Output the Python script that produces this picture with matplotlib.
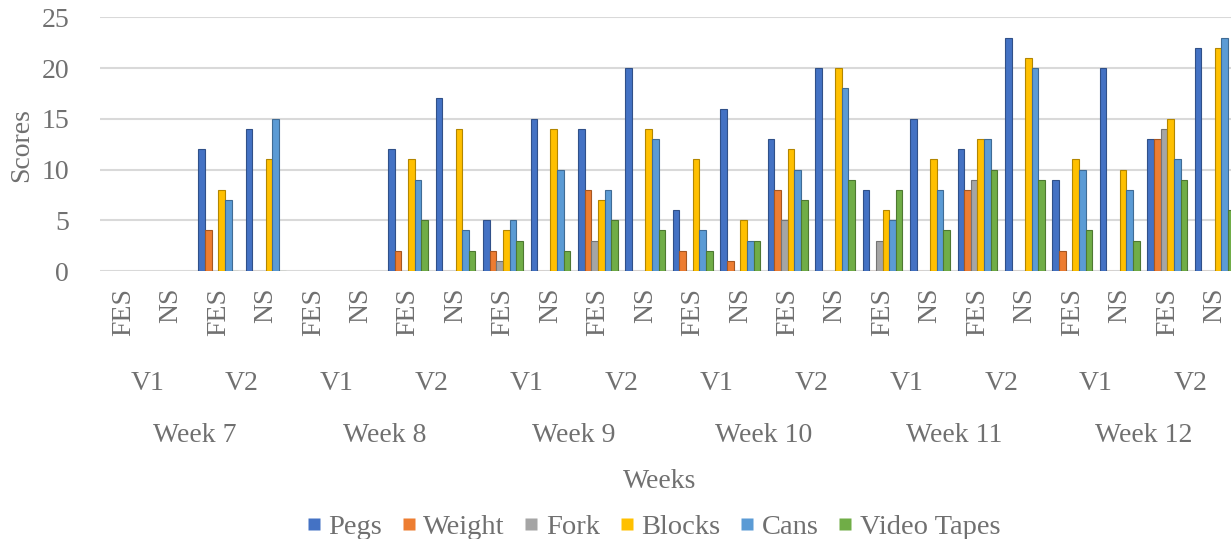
import matplotlib
matplotlib.use("Agg")
import matplotlib.pyplot as plt
import matplotlib.transforms as mtransforms
import numpy as np
from matplotlib.colors import to_rgb
from matplotlib.lines import Line2D

plt.rcParams["font.family"] = ["Liberation Serif", "DejaVu Serif"]

weeks = ["Week 7", "Week 8", "Week 9", "Week 10", "Week 11", "Week 12"]
visits = ["V1", "V2"]
conditions = ["FES", "NS"]

series_names = ["Pegs", "Weight", "Fork", "Blocks", "Cans", "Video Tapes"]
series_colors = ["#4472C4", "#ED7D31", "#A5A5A5", "#FFC000", "#5B9BD5", "#70AD47"]

# one value per week/visit/condition slot (24 slots), None = no data recorded
pegs = [None, None, 12, 14, None, None, 12, 17, 5, 15, 14, 20,
        6, 16, 13, 20, 8, 15, 12, 23, 9, 20, 13, 22]
weight = [None, None, 4, 0, None, None, 2, 0, 2, 0, 8, 0,
          2, 1, 8, 0, 0, 0, 8, 0, 2, 0, 13, 0]
fork = [None, None, 0, 0, None, None, 0, 0, 1, 0, 3, 0,
        0, 0, 5, 0, 3, 0, 9, 0, 0, 0, 14, 0]
blocks = [None, None, 8, 11, None, None, 11, 14, 4, 14, 7, 14,
          11, 5, 12, 20, 6, 11, 13, 21, 11, 10, 15, 22]
cans = [None, None, 7, 15, None, None, 9, 4, 5, 10, 8, 13,
        4, 3, 10, 18, 5, 8, 13, 20, 10, 8, 11, 23]
video_tapes = [None, None, 0, 0, None, None, 5, 2, 3, 2, 5, 4,
               2, 3, 7, 9, 8, 4, 10, 9, 4, 3, 9, 6]

series = [pegs, weight, fork, blocks, cans, video_tapes]

text_color = "#707070"
fs = 20

n_slots = len(weeks) * len(visits) * len(conditions)
x = np.arange(n_slots)

fig = plt.figure(figsize=(12.31, 5.39), dpi=100)
ax = fig.add_axes([0.081, 0.497, 0.925, 0.471])

bar_w = 0.14
for i, (name, vals, color) in enumerate(zip(series_names, series, series_colors)):
    offs = (i - 2.5) * bar_w
    xs = [xi + offs for xi, v in zip(x, vals) if v is not None]
    hs = [v for v in vals if v is not None]
    edge = tuple(c * 0.7 for c in to_rgb(color))
    ax.bar(xs, hs, width=bar_w, color=color, edgecolor=edge, linewidth=0.8,
           label=name, zorder=3)

ax.set_xlim(-0.5, n_slots - 0.5)
ax.set_ylim(0, 25)
ax.set_yticks(range(0, 26, 5))
ax.grid(axis="y", color="#D9D9D9", linewidth=1.5, zorder=0)
for s in ax.spines.values():
    s.set_visible(False)
ax.tick_params(axis="both", length=0, labelsize=fs, labelcolor=text_color)
ax.tick_params(axis="y", pad=22)

ax.set_xticks(x)
ax.set_xticklabels(conditions * (n_slots // 2), rotation=90, va="top")
ax.tick_params(axis="x", pad=12)

trans = mtransforms.blended_transform_factory(ax.transData, fig.transFigure)
for k in range(len(weeks) * len(visits)):
    ax.text(2 * k + 0.5, 1 - 383 / 539, visits[k % 2], transform=trans,
            ha="center", va="center", fontsize=fs, color=text_color)
for w, week in enumerate(weeks):
    ax.text(4 * w + 1.5, 1 - 436 / 539, week, transform=trans,
            ha="center", va="center", fontsize=fs, color=text_color)

fig.text(660 / 1231, 1 - 482 / 539, "Weeks", ha="center", va="center",
         fontsize=fs, color=text_color)
fig.text(22 / 1231, 1 - 145 / 539, "Scores", ha="center", va="center",
         rotation=90, fontsize=fs, color=text_color)

# square swatches for the legend
handles = [Line2D([], [], marker="s", linestyle="none", markersize=8.5,
                  markerfacecolor=c, markeredgecolor="none") for c in series_colors]
fig.legend(handles, series_names, loc="center", bbox_to_anchor=(654 / 1231, 1 - 527 / 539),
           ncol=6, frameon=False, fontsize=20.5, handlelength=0.4,
           handletextpad=0.3, columnspacing=0.75, labelcolor=text_color,
           borderpad=0, borderaxespad=0)

fig.savefig("out.png", dpi=100)
